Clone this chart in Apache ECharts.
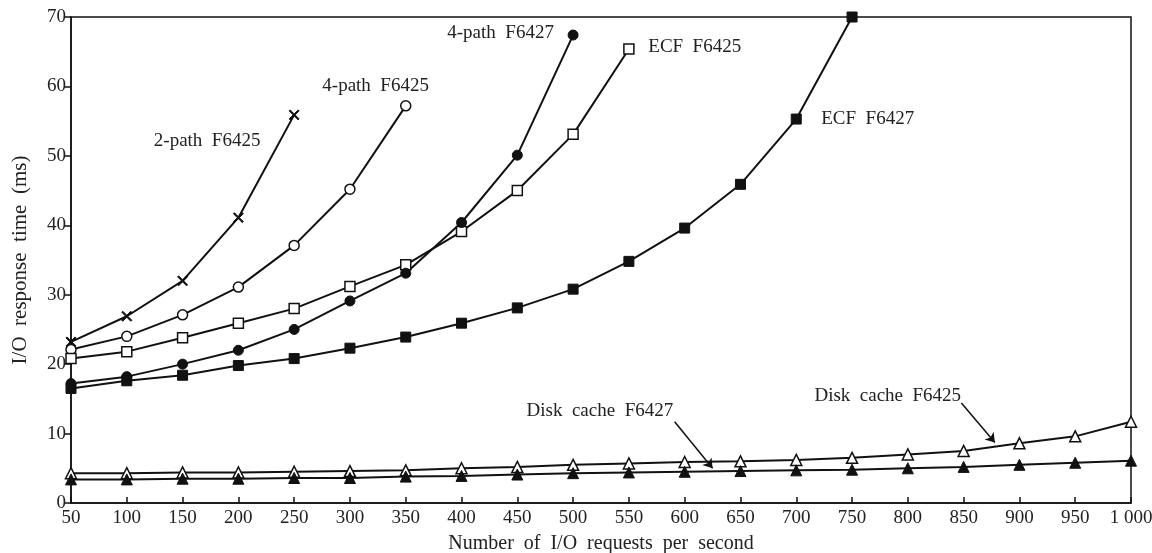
<!DOCTYPE html>
<html><head><meta charset="utf-8">
<script src="https://cdn.jsdelivr.net/npm/echarts@6/dist/echarts.min.js"></script>
<style>html,body{margin:0;padding:0;background:#fff}#c{width:1152px;height:553px}</style>
</head><body><div id="c"></div>
<script>
// Data (x = I/O requests per second, y = response time ms)
var xTicks = [50,100,150,200,250,300,350,400,450,500,550,600,650,700,750,800,850,900,950,1000];
var twoPathF6425_x = [50,100,150,200,250];
var twoPathF6425_y = [23.2,26.9,32.0,41.1,55.9];
var fourPathF6425_x = [50,100,150,200,250,300,350];
var fourPathF6425_y = [22.1,24.0,27.1,31.1,37.1,45.2,57.2];
var ecfF6425_x = [50,100,150,200,250,300,350,400,450,500,550];
var ecfF6425_y = [20.8,21.8,23.8,25.9,28.0,31.2,34.3,39.1,45.0,53.1,65.4];
var fourPathF6427_x = [50,100,150,200,250,300,350,400,450,500];
var fourPathF6427_y = [17.2,18.2,20.0,22.0,25.0,29.1,33.1,40.4,50.1,67.4];
var ecfF6427_x = [50,100,150,200,250,300,350,400,450,500,550,600,650,700,750];
var ecfF6427_y = [16.5,17.6,18.4,19.8,20.8,22.3,23.9,25.9,28.1,30.8,34.8,39.6,45.9,55.3,70.0];
var diskF6425_x = xTicks;
var diskF6425_y = [4.3,4.3,4.4,4.4,4.5,4.6,4.7,5.0,5.2,5.5,5.7,5.9,6.0,6.2,6.5,7.0,7.5,8.6,9.6,11.7];
var diskF6427_x = xTicks;
var diskF6427_y = [3.4,3.4,3.5,3.5,3.6,3.6,3.8,3.9,4.1,4.3,4.4,4.5,4.6,4.7,4.8,5.0,5.2,5.5,5.8,6.1];

function pairs(xs, ys){ return xs.map(function(x,i){ return [x, ys[i]]; }); }

var FONT = '"Liberation Serif","DejaVu Serif",serif';
var TXT = '#222';
var SP = '\u2002';
var crossPath = 'path://M0,1L1,0L5,4L9,0L10,1L6,5L10,9L9,10L5,6L1,10L0,9L4,5Z';

function sp(t){ return t.split(' ').join(SP); }

function annot(text, x, y){
  return {coord:[x,y], symbol:'circle', symbolSize:0,
    label:{show:true, position:'inside', formatter:sp(text), color:TXT, fontFamily:FONT, fontSize:19}};
}

function arrow(x1,y1,x2,y2){
  return {silent:true, symbol:['none','arrow'], symbolSize:9,
    lineStyle:{color:'#111', width:1.5, type:'solid'}, label:{show:false},
    itemStyle:{color:'#111'},
    data:[[{coord:[x1,y1]},{coord:[x2,y2]}]]};
}

var OPEN = {color:'#fff', borderColor:'#111', borderWidth:1.5};
var FILLED = {color:'#111', borderColor:'#111', borderWidth:1};

function lineSeries(name, data, symbol, size, item, extra){
  var s = {
    name:name, type:'line', data:data, symbol:symbol, symbolSize:size,
    showSymbol:true, animation:false, z:3,
    lineStyle:{color:'#111', width:2},
    itemStyle:item
  };
  if (extra) for (var k in extra) s[k] = extra[k];
  return s;
}

var chart = echarts.init(document.getElementById('c'));
chart.setOption({
  backgroundColor:'#fff',
  animation:false,
  grid:{left:71, right:21, top:17, bottom:50, containLabel:false, outerBoundsMode:'none',
    show:true, borderColor:'#111', borderWidth:1.5},
  xAxis:{
    type:'value', min:50, max:1000, interval:50,
    name:sp('Number of I/O requests per second'), nameLocation:'middle', nameGap:31,
    nameTextStyle:{color:TXT, fontFamily:FONT, fontSize:20},
    axisLine:{show:true, lineStyle:{color:'#111', width:1.5}},
    axisTick:{show:true, inside:true, length:6, lineStyle:{color:'#111', width:1.5}},
    axisLabel:{color:TXT, fontFamily:FONT, fontSize:19, margin:6,
      formatter:function(v){ return v===1000 ? '1 000' : String(v); }},
    splitLine:{show:false}
  },
  yAxis:{
    type:'value', min:0, max:70, interval:10,
    name:sp('I/O response time (ms)'), nameLocation:'middle', nameGap:40, nameRotate:90,
    nameTextStyle:{color:TXT, fontFamily:FONT, fontSize:21},
    axisLine:{show:true, lineStyle:{color:'#111', width:1.5}},
    axisTick:{show:true, inside:false, length:7, lineStyle:{color:'#111', width:1.5}},
    axisLabel:{color:TXT, fontFamily:FONT, fontSize:19, margin:5},
    splitLine:{show:false}
  },
  series:[
    lineSeries('2-path F6425', pairs(twoPathF6425_x, twoPathF6425_y), crossPath, 10, FILLED, {
      markPoint:{silent:true, data:[annot('2-path F6425', 172, 52.1)]}
    }),
    lineSeries('4-path F6425', pairs(fourPathF6425_x, fourPathF6425_y), 'circle', 10, OPEN, {
      markPoint:{silent:true, data:[annot('4-path F6425', 323, 60.1)]}
    }),
    lineSeries('ECF F6425', pairs(ecfF6425_x, ecfF6425_y), 'rect', 10, OPEN, {
      markPoint:{silent:true, data:[annot('ECF F6425', 609, 65.7)]}
    }),
    lineSeries('4-path F6427', pairs(fourPathF6427_x, fourPathF6427_y), 'circle', 10, FILLED, {
      markPoint:{silent:true, data:[annot('4-path F6427', 435, 67.7)]}
    }),
    lineSeries('ECF F6427', pairs(ecfF6427_x, ecfF6427_y), 'rect', 10, FILLED, {
      markPoint:{silent:true, data:[annot('ECF F6427', 764, 55.3)]}
    }),
    lineSeries('Disk cache F6425', pairs(diskF6425_x, diskF6425_y), 'triangle', 11, OPEN, {
      markPoint:{silent:true, data:[annot('Disk cache F6425', 782, 15.4)]},
      markLine:arrow(848,14.4,878,8.7)
    }),
    lineSeries('Disk cache F6427', pairs(diskF6427_x, diskF6427_y), 'triangle', 11, FILLED, {
      markPoint:{silent:true, data:[annot('Disk cache F6427', 524, 13.2)]},
      markLine:arrow(591,11.7,625,5.0)
    })
  ]
});
</script></body></html>
